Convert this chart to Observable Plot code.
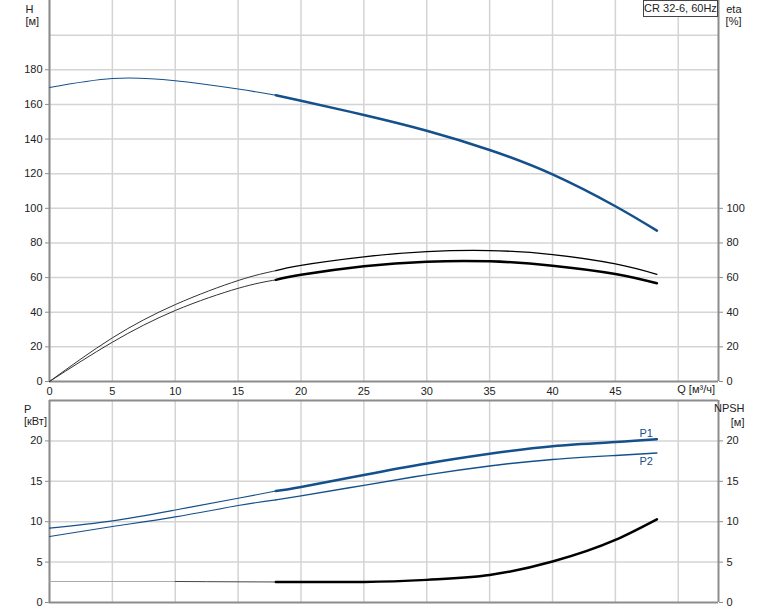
<!DOCTYPE html>
<html><head><meta charset="utf-8">
<script src="https://cdn.jsdelivr.net/npm/d3@7"></script>
<script src="https://cdn.jsdelivr.net/npm/@observablehq/plot@0.6"></script>
<style>
body{margin:0;background:#fff;font-family:"Liberation Sans",Arial,sans-serif;}
#wrap{position:relative;width:774px;height:611px;overflow:hidden;background:#fff;}
#top,#bot{position:absolute;left:0;}
#top{top:0}
#bot{top:399px}
#box{position:absolute;left:643px;top:0;width:73px;height:15px;border:1px solid #444;background:#fff;font-size:11px;line-height:15px;text-align:center;color:#222;white-space:nowrap;}
</style></head><body>
<div id="wrap"><div id="top"></div><div id="bot"></div><div id="box">CR 32-6, 60Hz</div></div>
<script>
// Flow points (m³/h)
const Q = [0, 5, 10, 15, 18, 20, 25, 30, 35, 40, 45, 48.3];
// Head H [m]
const H = [169.8, 175.0, 173.7, 168.9, 165.3, 162.1, 153.9, 144.8, 133.7, 119.6, 101.2, 87.1];
// Efficiency curves eta [%]
const ETA_UPPER = [0, 25.2, 44.4, 58.3, 64.0, 67.1, 72.0, 75.0, 75.6, 73.3, 67.9, 61.9];
const ETA_LOWER = [0, 22.7, 41.0, 53.8, 58.7, 61.6, 66.5, 69.2, 69.4, 66.9, 62.1, 56.7];
// Power [kW]
const P1 = [9.2, 10.1, 11.45, 12.9, 13.8, 14.3, 15.78, 17.2, 18.4, 19.35, 19.85, 20.2];
const P2 = [8.16, 9.4, 10.6, 12.0, 12.7, 13.2, 14.5, 15.8, 16.9, 17.7, 18.2, 18.5];
// NPSH [m]
const NPSH = [2.6, 2.6, 2.6, 2.56, 2.54, 2.53, 2.55, 2.8, 3.4, 5.07, 7.75, 10.3];

const Q_TICKS = [0, 5, 10, 15, 20, 25, 30, 35, 40, 45];
const Q_GRID = [0, 5, 10, 15, 20, 25, 30, 35, 40, 45, 50];
const H_TICKS = [0, 20, 40, 60, 80, 100, 120, 140, 160, 180];
const H_GRID = [20, 40, 60, 80, 100, 120, 140, 160, 180, 200];
const ETA_TICKS = [0, 20, 40, 60, 80, 100];
const P_TICKS = [0, 5, 10, 15, 20];
const NPSH_TICKS = [0, 5, 10, 15, 20];
const SPLIT = 18; // start of the bold (operating) range
const Q_MAX = 53.2;

const rows = ys => Q.map((q, i) => ({q, v: ys[i]}));
const upTo = (d, a, b) => d.filter(r => r.q >= a && r.q <= b);

const BLUE = "#14508c", GRID = "#d4d4d4", AXIS = "#8c8c8c", TXT = "#222";
const FONT = "Liberation Sans, Arial, sans-serif";
const style = {fontFamily: FONT, fontSize: "11px", color: TXT, background: "transparent", overflow: "visible"};

function curvePair(d, color, thinW, thickW, curve, thinColor) {
  return [
    Plot.line(upTo(d, 0, SPLIT), {x: "q", y: "v", stroke: thinColor || color, strokeWidth: thinW, curve}),
    Plot.line(upTo(d, SPLIT, 100), {x: "q", y: "v", stroke: color, strokeWidth: thickW, curve})
  ];
}

const Hr = rows(H), E1 = rows(ETA_UPPER), E2 = rows(ETA_LOWER);
const topPlot = Plot.plot({
  width: 774, height: 400,
  marginLeft: 49, marginRight: 56, marginTop: 0, marginBottom: 19,
  style,
  x: {domain: [0, Q_MAX], axis: null},
  y: {domain: [0, 220], axis: null},
  marks: [
    Plot.gridX(Q_GRID, {stroke: GRID, strokeOpacity: 1, strokeWidth: 1.5}),
    Plot.gridY(H_GRID, {stroke: GRID, strokeOpacity: 1, strokeWidth: 1.5}),
    Plot.axisY(H_TICKS, {anchor: "left", tickSize: 4, tickPadding: 3, stroke: AXIS, fill: TXT, label: null}),
    Plot.axisY(ETA_TICKS, {anchor: "right", tickSize: 4, tickPadding: 4, stroke: AXIS, fill: TXT, label: null}),
    Plot.axisX(Q_TICKS, {anchor: "bottom", tickSize: 0, tickPadding: 6, fill: TXT, label: null}),
    Plot.text([{q: 50, t: "Q [м³/ч]"}], {x: "q", text: "t", frameAnchor: "bottom", dy: 11, dx: -1, textAnchor: "start", fill: TXT}),
    Plot.ruleX([0, Q_MAX], {stroke: AXIS, strokeWidth: 2}),
    Plot.ruleY([0], {stroke: AXIS, strokeWidth: 2}),
    ...curvePair(E1, "#000", 1, 1.3, "natural", "#333"),
    ...curvePair(E2, "#000", 1, 2.5, "natural", "#333"),
    ...curvePair(Hr, BLUE, 1.1, 2.5, "natural"),
    Plot.text(["H"], {frameAnchor: "top-left", dx: -24, dy: 5, fill: TXT}),
    Plot.text(["[м]"], {frameAnchor: "top-left", dx: -24, dy: 17, fill: TXT}),
    Plot.text(["eta"], {frameAnchor: "top-right", dx: 23, dy: 5, fill: TXT}),
    Plot.text(["[%]"], {frameAnchor: "top-right", dx: 23, dy: 17, fill: TXT})
  ]
});
document.getElementById("top").appendChild(topPlot);

const P1r = rows(P1), P2r = rows(P2), Nr = rows(NPSH);
const lastP1 = P1r[P1r.length - 1], lastP2 = P2r[P2r.length - 1];
const botPlot = Plot.plot({
  width: 774, height: 212,
  marginLeft: 49, marginRight: 56, marginTop: 1, marginBottom: 9,
  style,
  x: {domain: [0, Q_MAX], axis: null},
  y: {domain: [0, 25], axis: null},
  marks: [
    Plot.gridX(Q_GRID, {stroke: GRID, strokeOpacity: 1, strokeWidth: 1.5}),
    Plot.gridY([5, 10, 15, 20], {stroke: GRID, strokeOpacity: 1, strokeWidth: 1.5}),
    Plot.axisY(P_TICKS, {anchor: "left", tickSize: 4, tickPadding: 3, stroke: AXIS, fill: TXT, label: null}),
    Plot.axisY(NPSH_TICKS, {anchor: "right", tickSize: 4, tickPadding: 4, stroke: AXIS, fill: TXT, label: null}),
    Plot.ruleX([0, Q_MAX], {stroke: AXIS, strokeWidth: 2}),
    Plot.ruleY([0, 25], {stroke: AXIS, strokeWidth: 2}),
    Plot.line(upTo(Nr, 0, 10), {x: "q", y: "v", stroke: "#aaa", strokeWidth: 1.2, curve: "monotone-x"}),
    Plot.line(upTo(Nr, 10, SPLIT), {x: "q", y: "v", stroke: "#444", strokeWidth: 1, curve: "monotone-x"}),
    Plot.line(upTo(Nr, SPLIT, 100), {x: "q", y: "v", stroke: "#000", strokeWidth: 2.5, curve: "monotone-x"}),
    ...curvePair(P2r, BLUE, 1.1, 1.4, "natural"),
    ...curvePair(P1r, BLUE, 1.1, 2.5, "natural"),
    Plot.text([lastP1], {x: "q", y: "v", text: () => "P1", textAnchor: "end", dx: -4, dy: -6, fill: BLUE}),
    Plot.text([lastP2], {x: "q", y: "v", text: () => "P2", textAnchor: "end", dx: -4, dy: 8, fill: BLUE}),
    Plot.text(["P"], {frameAnchor: "top-left", dx: -25.5, dy: 4.5, fill: TXT}),
    Plot.text(["[кВт]"], {frameAnchor: "top-left", dx: -25.5, dy: 16.5, fill: TXT}),
    Plot.text(["NPSH"], {frameAnchor: "top-right", dx: 26, dy: 4, fill: TXT}),
    Plot.text(["[м]"], {frameAnchor: "top-right", dx: 26, dy: 17.5, fill: TXT})
  ]
});
document.getElementById("bot").appendChild(botPlot);
</script>
</body></html>
